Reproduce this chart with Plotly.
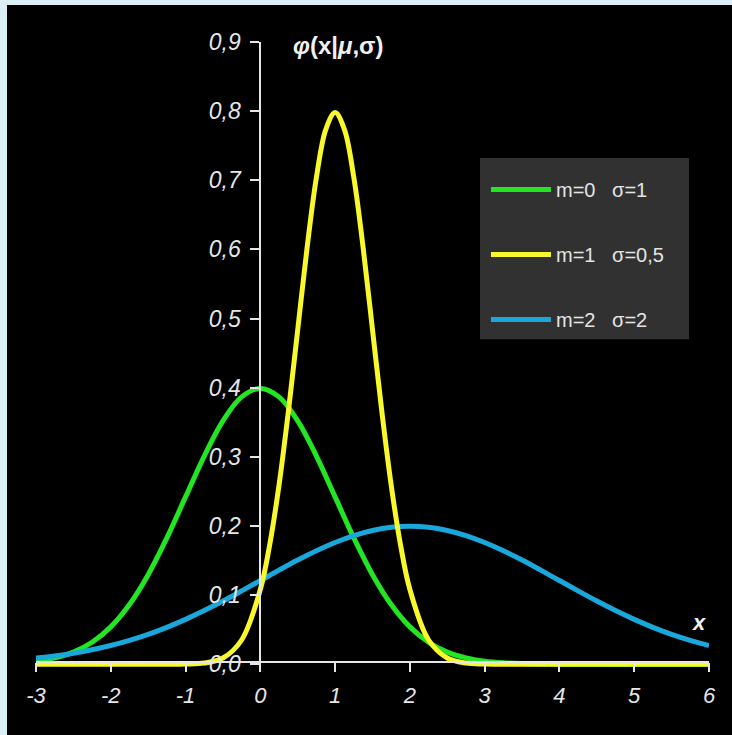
import plotly.graph_objects as go

# ---- data ----
x_grid = [-3, -2.75, -2.5, -2.25, -2, -1.75, -1.5, -1.25, -1, -0.75, -0.5, -0.25,
          0, 0.25, 0.5, 0.75, 1, 1.25, 1.5, 1.75, 2, 2.25, 2.5, 2.75, 3, 3.25,
          3.5, 3.75, 4, 4.25, 4.5, 4.75, 5, 5.25, 5.5, 5.75, 6]
green_vals = [0.0044, 0.0091, 0.0175, 0.0317, 0.0540, 0.0863, 0.1295, 0.1826, 0.2420,
              0.3011, 0.3521, 0.3867, 0.3989, 0.3867, 0.3521, 0.3011, 0.2420, 0.1826,
              0.1295, 0.0863, 0.0540, 0.0317, 0.0175, 0.0091, 0.0044, 0.0020, 0.0009,
              0.0004, 0.0001, 0, 0, 0, 0, 0, 0, 0, 0]
blue_vals = [0.0088, 0.0119, 0.0159, 0.0209, 0.0270, 0.0344, 0.0431, 0.0533, 0.0648,
             0.0775, 0.0913, 0.1060, 0.1210, 0.1360, 0.1506, 0.1641, 0.1760, 0.1860,
             0.1934, 0.1980, 0.1995, 0.1980, 0.1934, 0.1860, 0.1760, 0.1641, 0.1506,
             0.1360, 0.1210, 0.1060, 0.0913, 0.0775, 0.0648, 0.0533, 0.0431, 0.0344,
             0.0270]
yellow_x = [-3, -2.5, -2, -1.5, -1.25, -1, -0.75, -0.5, -0.25, 0, 0.125, 0.25, 0.375,
            0.5, 0.625, 0.75, 0.875, 1, 1.125, 1.25, 1.375, 1.5, 1.625, 1.75, 1.875,
            2, 2.25, 2.5, 2.75, 3, 3.25, 3.5, 4, 4.5, 5, 5.5, 6]
yellow_vals = [0, 0, 0, 0, 0.0000, 0.0003, 0.0017, 0.0089, 0.0350, 0.1080, 0.1726,
               0.2590, 0.3653, 0.4839, 0.6022, 0.7041, 0.7733, 0.7979, 0.7733, 0.7041,
               0.6022, 0.4839, 0.3653, 0.2590, 0.1726, 0.1080, 0.0350, 0.0089, 0.0017,
               0.0003, 0.0000, 0, 0, 0, 0, 0, 0]
names = ["m=0\u00a0\u00a0\u00a0σ=1", "m=1\u00a0\u00a0\u00a0σ=0,5", "m=2\u00a0\u00a0\u00a0σ=2"]
x_ticks = [-3, -2, -1, 0, 1, 2, 3, 4, 5, 6]
x_tick_labels = ["-3", "-2", "-1", "0", "1", "2", "3", "4", "5", "6"]
y_ticks = [0, 0.1, 0.2, 0.3, 0.4, 0.5, 0.6, 0.7, 0.8, 0.9]
y_tick_labels = ["0,0", "0,1", "0,2", "0,3", "0,4", "0,5", "0,6", "0,7", "0,8", "0,9"]

GREEN = "#22e622"
YELLOW = "#f8f82a"
BLUE = "#19a8dc"
AX = "#e6e6e6"
BORDER = "#dbeff4"
FONT = "Arial, Liberation Sans, sans-serif"

fig = go.Figure()
fig.add_trace(go.Scatter(x=x_grid, y=green_vals, mode="lines", name=names[0],
                         line=dict(color=GREEN, width=5, shape="spline"),
                         legendgroup="g", legendrank=1))
fig.add_trace(go.Scatter(x=x_grid, y=blue_vals, mode="lines", name=names[2],
                         line=dict(color=BLUE, width=5, shape="spline"),
                         legendgroup="b", legendrank=3))
fig.add_trace(go.Scatter(x=yellow_x, y=yellow_vals, mode="lines", name=names[1],
                         line=dict(color=YELLOW, width=5, shape="spline"),
                         legendgroup="y", legendrank=2))

fig.update_layout(
    width=732, height=735,
    margin=dict(l=36, r=23, t=42, b=67),
    paper_bgcolor="#000000",
    plot_bgcolor="#000000",
    separators=", ",
    showlegend=True,
    legend=dict(x=0.6686, y=0.7954, xanchor="left", yanchor="top",
                bgcolor="rgba(0,0,0,0)", tracegroupgap=36,
                traceorder="grouped", itemwidth=60,
                font=dict(family=FONT, size=20, color="#e4e4e4")),
    xaxis=dict(range=[-3, 6], tickvals=x_ticks, ticktext=x_tick_labels,
               showgrid=False, zeroline=False,
               showline=True, linecolor=AX, linewidth=2,
               ticks="outside", ticklen=9, tickwidth=2, tickcolor=AX,
               anchor="free", position=0.0088, ticklabelstandoff=4,
               tickfont=dict(family=FONT, size=22, color=AX, style="italic")),
    yaxis=dict(range=[-0.0055, 0.9], tickvals=y_ticks, ticktext=y_tick_labels,
               showgrid=False, zeroline=False,
               showline=True, linecolor=AX, linewidth=2,
               ticks="outside", ticklen=9, tickwidth=2, tickcolor=AX,
               anchor="free", position=1/3, ticklabelstandoff=5,
               tickfont=dict(family=FONT, size=23, color=AX, style="italic")),
    shapes=[
        dict(type="rect", xref="paper", yref="paper", x0=-0.2, x1=-0.0431,
             y0=-0.3, y1=1.3, fillcolor=BORDER, line=dict(width=0), layer="above"),
        dict(type="rect", xref="paper", yref="paper", x0=-0.2, x1=1.2,
             y0=1.0591, y1=1.3, fillcolor=BORDER, line=dict(width=0), layer="above"),
        dict(type="rect", xref="paper", yref="paper", x0=0.6597, x1=0.9703,
             y0=0.5253, y1=0.8146, fillcolor="#313131", line=dict(width=0), layer="above"),
    ],
    annotations=[
        dict(text="<b><i>φ</i>(x|<i>μ</i>,σ)</b>", xref="paper", yref="paper",
             x=0.45, y=0.994, xanchor="center", yanchor="middle", showarrow=False,
             font=dict(family=FONT, size=24, color="#f0f0f0")),
        dict(text="<b><i>x</i></b>", xref="paper", yref="paper",
             x=0.985, y=0.073, xanchor="center", yanchor="middle", showarrow=False,
             font=dict(family=FONT, size=22, color="#f0f0f0")),
    ],
)

fig.write_html(
    "out.html",
    config={"displayModeBar": False},
    post_script="document.body.style.margin='0';document.body.style.background='#dbeff4';",
)
